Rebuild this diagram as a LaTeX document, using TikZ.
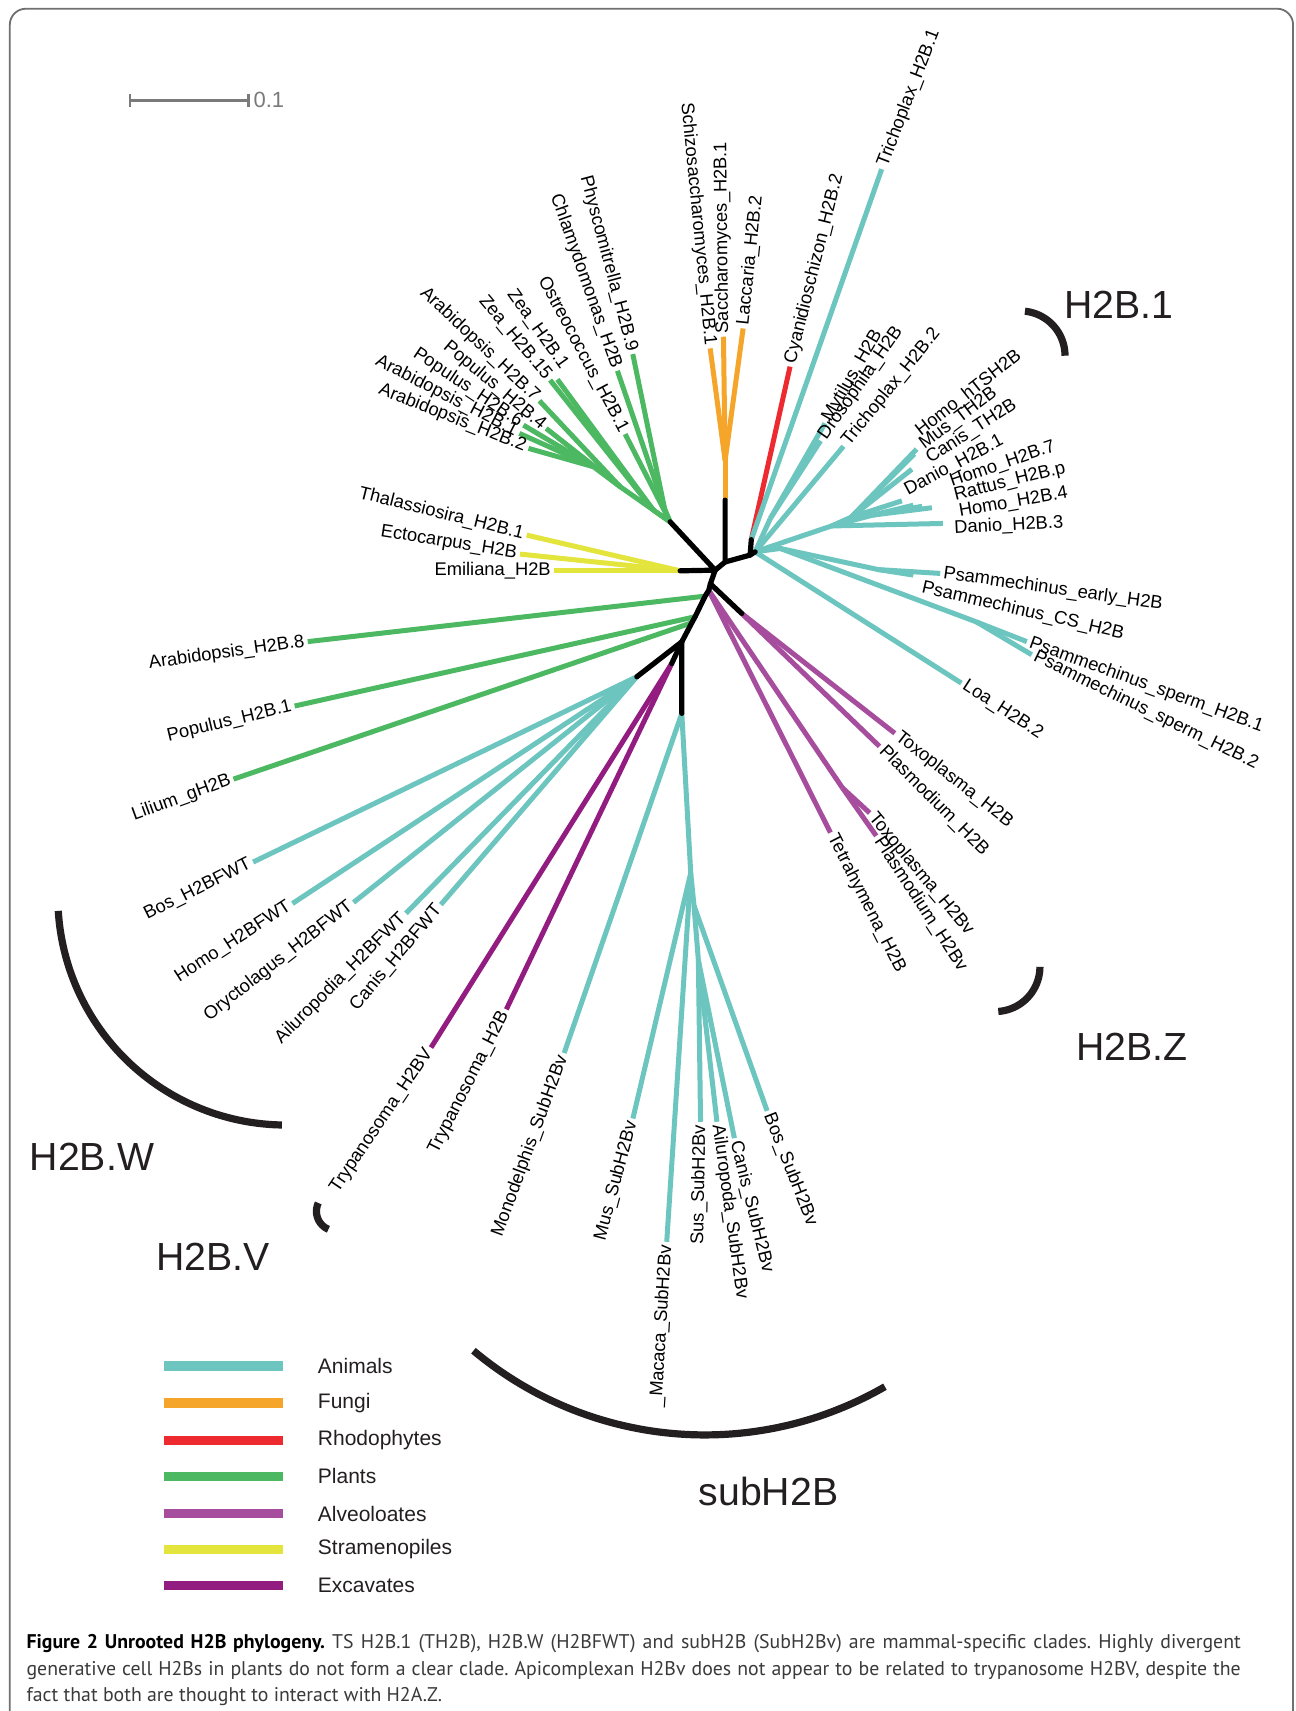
\documentclass[tikz,border=0pt]{standalone}
\usepackage{fontspec}
\setmainfont{Liberation Sans}
\newfontfamily\capfont{PT Sans}
\definecolor{cAni}{HTML}{6CC5BE}
\definecolor{cFun}{HTML}{F4A52A}
\definecolor{cRho}{HTML}{EC2A2F}
\definecolor{cPla}{HTML}{4DB862}
\definecolor{cAlv}{HTML}{A64D9E}
\definecolor{cStr}{HTML}{E3E43C}
\definecolor{cExc}{HTML}{931C81}
\definecolor{cArc}{HTML}{231F20}
\definecolor{cFrame}{HTML}{707070}
\definecolor{cScale}{HTML}{7A7A7A}
\definecolor{cCap}{HTML}{3A3A3A}
\tikzset{
  br/.style={line width=2.5pt},
  blk/.style={line width=2.6pt, draw=black, line cap=round, line join=round},
  lbl/.style={font=\fontsize{9.16}{11}\selectfont, inner sep=1.5pt, text=black},
  clade/.style={font=\fontsize{19.6}{22}\selectfont, inner sep=0pt, anchor=base west, text=cArc},
  arcline/.style={line width=3.6pt, draw=cArc},
  legline/.style={line width=4.8pt},
  legtxt/.style={font=\fontsize{10.5}{12}\selectfont, anchor=west, inner sep=0pt, text=cArc},
  captxt/.style={font=\capfont\fontsize{9.9}{11}\selectfont\frenchspacing, anchor=base west, inner sep=0pt, text=cCap},
}
% name, parent, coord, color, anchor, rotation, text
\newcommand{\mkleaf}[7]{%
  \coordinate (#1) at (#3);
  \draw[br,draw=#4] (#2) -- (#1);
  \node[lbl,anchor=#5,rotate=#6] (#1-t) at (#1) {#7};}
% name, parent, coord, color, label pos, anchor, rotation, text
\newcommand{\mkleafat}[8]{%
  \coordinate (#1) at (#3);
  \draw[br,draw=#4] (#2) -- (#1);
  \node[lbl,anchor=#6,rotate=#7] (#1-t) at (#5) {#8};}
\newcommand{\mkleg}[4]{%
  \coordinate (lg#1a) at (150,#2);
  \coordinate (lg#1b) at (259,#2);
  \draw[legline,draw=#3] (lg#1a) -- (lg#1b);
  \node[legtxt] (lg#1t) at (291,#2) {#4};}
\begin{document}
\begin{tikzpicture}[x=0.5455pt,y=-0.5455pt]
\useasboundingbox (0,0) rectangle (1187,1568);
\fill[white] (0,0) rectangle (1187,1568);
% frame
\draw[cFrame, line width=0.9pt, rounded corners=8pt] (9,1600) -- (9,8) -- (1185,8) -- (1185,1600);
% scale bar
\coordinate (sbA) at (119,92);
\coordinate (sbB) at (228,92);
\draw[cScale, line width=1.3pt] (sbA) -- (sbB);
\draw[cScale, line width=1.3pt] ([yshift=3.3pt]sbA) -- ([yshift=-3.3pt]sbA);
\draw[cScale, line width=1.3pt] ([yshift=3.3pt]sbB) -- ([yshift=-3.3pt]sbB);
\node[font=\fontsize{11}{13}\selectfont, text=cScale, anchor=west, inner sep=0pt] (sbT) at (232,92) {0.1};

% internal nodes
\coordinate (C0) at (655.4,522.5);
\coordinate (G1) at (614.1,478.2);
\coordinate (Y) at (623.3,523.1);
\coordinate (Fb) at (664.5,515);
\coordinate (F) at (664.5,458.3);
\coordinate (Fo) at (664.5,422);
\coordinate (A0) at (687.4,508.7);
\coordinate (R) at (688.5,494.5);
\coordinate (AN) at (692,505.7);
\coordinate (Ca) at (651,535);
\coordinate (T0) at (649.5,541);
\coordinate (B2) at (646.2,546.3);
\coordinate (B3) at (637,565.2);
\coordinate (B4) at (634,570.7);
\coordinate (B5) at (624.8,588.2);
\coordinate (Al) at (679.8,562.2);
\coordinate (FW) at (583.6,620.2);
\coordinate (E) at (615.6,608);
\coordinate (SB) at (624.8,653.8);
% plants internal
\coordinate (Nph) at (609,466);
\coordinate (Nz) at (598.8,467.5);
\coordinate (Nm) at (568.3,446);
\coordinate (Nl) at (543.8,427.7);
\draw[br,draw=cPla] (G1) -- (Nph);
\draw[br,draw=cPla] (G1) -- (Nz);
\draw[br,draw=cPla] (G1) -- (Nm) -- (Nl);
% animals internal
\coordinate (Nmd) at (706,475);
\coordinate (Nt) at (762,482);
\coordinate (Nt1) at (780,474);
\coordinate (Nt2) at (800,472);
\coordinate (Nps) at (715,502.6);
\coordinate (Nec) at (805,522);
\coordinate (Nsp) at (895,570);
\coordinate (Nv) at (772,722);
\coordinate (S1) at (633,800);
\coordinate (S2) at (636,830);
\coordinate (S3) at (640,880);
\draw[br,draw=cAni] (AN) -- (Nmd);
\draw[br,draw=cAni] (AN) -- (Nt) -- (Nt1);
\draw[br,draw=cAni] (Nt) -- (Nt2);
\draw[br,draw=cAni] (AN) -- (Nps) -- (Nec);
\draw[br,draw=cAni] (Nps) -- (Nsp);
\draw[br,draw=cAni] (SB) -- (S1) -- (S2) -- (S3);
\draw[br,draw=cAlv] (T0) -- (Nv);
\draw[br,draw=cFun] (F) -- (Fo);

% plants (upper)
\mkleaf{phys}{Nph}{579.9,324.5}{cPla}{east}{-75}{Physcomitrella\_H2B.9}
\mkleaf{chla}{Nph}{565.8,339.8}{cPla}{east}{-70.5}{Chlamydomonas\_H2B}
\mkleaf{ostr}{G1}{572.9,397.8}{cPla}{east}{-62}{Ostreococcus\_H2B.1}
\mkleafat{zea1}{Nz}{510.8,347.7}{cPla}{519,339}{east}{-54.6}{Zea\_H2B.1}
\mkleaf{zea15}{Nz}{504.1,348.3}{cPla}{east}{-50.2}{Zea\_H2B.15}
\mkleaf{ara7}{Nm}{494.3,367.3}{cPla}{east}{-43.3}{Arabidopsis\_H2B.7}
\mkleaf{pop4}{Nm}{500.5,392.6}{cPla}{east}{-39.8}{Populus\_H2B.4}
\mkleaf{pop6}{Nl}{479.7,389.6}{cPla}{east}{-33.9}{Populus\_H2B.6}
\mkleaf{ara1}{Nl}{476,397.2}{cPla}{east}{-27.1}{Arabidopsis\_H2B.1}
\mkleaf{ara2}{Nl}{484.3,410.9}{cPla}{east}{-21.7}{Arabidopsis\_H2B.2}
% stramenopiles
\mkleaf{thal}{Y}{482.7,490.4}{cStr}{east}{-14}{Thalassiosira\_H2B.1}
\mkleaf{ecto}{Y}{476.6,507.8}{cStr}{east}{-9}{Ectocarpus\_H2B}
\mkleaf{emil}{Y}{507.8,523.1}{cStr}{east}{0}{Emiliana\_H2B}
% fungi
\mkleaf{schi}{Fo}{650.8,319.3}{cFun}{east}{-84.4}{Schizosaccharomyces\_H2B.1}
\mkleaf{sacc}{Fo}{663,308.6}{cFun}{west}{90.6}{Saccharomyces\_H2B.1}
\mkleaf{lacc}{Fo}{681,301}{cFun}{west}{84}{Laccaria\_H2B.2}
% rhodophytes
\mkleaf{cyan}{R}{724,336}{cRho}{west}{76}{Cyanidioschizon\_H2B.2}
\mkleaf{tri1}{R}{808,155}{cAni}{west}{69}{Trichoplax\_H2B.1}
% animals
\mkleaf{myti}{Nmd}{756,388}{cAni}{west}{60}{Mytilus\_H2B}
\mkleaf{dros}{Nmd}{752,404}{cAni}{west}{55}{Drosophila\_H2B}
\mkleaf{tri2}{AN}{773,409}{cAni}{west}{51}{Trichoplax\_H2B.2}
\mkleafat{htsh}{Nt1}{840,411.6}{cAni}{839,398.7}{west}{38}{Homo\_hTSH2B}
\mkleafat{must}{Nt1}{838,416}{cAni}{842.4,410.9}{west}{37}{Mus\_TH2B}
\mkleafat{cant}{Nt1}{835.7,430}{cAni}{847.8,423.2}{west}{33}{Canis\_TH2B}
\mkleafat{dan1}{Nt1}{826.5,459}{cAni}{827.4,451.5}{west}{28}{Danio\_H2B.1}
\mkleafat{hom7}{Nt2}{837,463}{cAni}{868.3,443}{west}{19}{Homo\_H2B.7}
\mkleafat{ratp}{Nt2}{845,464}{cAni}{871.7,455.2}{west}{14}{Rattus\_H2B.p}
\mkleafat{hom4}{Nt2}{854,465.3}{cAni}{876,470}{west}{10}{Homo\_H2B.4}
\mkleafat{dan3}{Nt}{864,479.7}{cAni}{871.5,484.5}{west}{3}{Danio\_H2B.3}
\mkleaf{psea}{Nec}{861.6,525.5}{cAni}{west}{-8}{Psammechinus\_early\_H2B}
\mkleafat{pscs}{Nec}{837,527}{cAni}{842,538}{west}{-13}{Psammechinus\_CS\_H2B}
\mkleaf{psp1}{Nsp}{941,588}{cAni}{west}{-20}{Psammechinus\_sperm\_H2B.1}
\mkleaf{psp2}{Nsp}{945.5,600}{cAni}{west}{-26}{Psammechinus\_sperm\_H2B.2}
\mkleaf{loa}{AN}{881,626}{cAni}{west}{-33}{Loa\_H2B.2}
% alveolates
\mkleaf{toxo}{Al}{820,672}{cAlv}{west}{-38}{Toxoplasma\_H2B}
\mkleaf{plas}{Al}{806,684}{cAlv}{west}{-45}{Plasmodium\_H2B}
\mkleaf{tetr}{T0}{761,763}{cAlv}{west}{-63}{Tetrahymena\_H2B}
\mkleaf{toxv}{Nv}{797,745}{cAlv}{west}{-50}{Toxoplasma\_H2Bv}
\mkleaf{plav}{Nv}{803,766}{cAlv}{west}{-57}{Plasmodium\_H2Bv}
% plants (lower)
\mkleaf{ara8}{B2}{282,588}{cPla}{east}{8}{Arabidopsis\_H2B.8}
\mkleaf{pop1}{B3}{270,647}{cPla}{east}{13.5}{Populus\_H2B.1}
\mkleaf{lili}{B4}{214,714}{cPla}{east}{20}{Lilium\_gH2B}
% H2BFWT
\mkleaf{bosf}{FW}{232,790}{cAni}{east}{26.5}{Bos\_H2BFWT}
\mkleaf{homf}{FW}{268,828}{cAni}{east}{33}{Homo\_H2BFWT}
\mkleaf{oryf}{FW}{324,827}{cAni}{east}{38}{Oryctolagus\_H2BFWT}
\mkleaf{ailf}{FW}{372,837}{cAni}{east}{45}{Ailuropodia\_H2BFWT}
\mkleaf{canf}{FW}{404,829}{cAni}{east}{50}{Canis\_H2BFWT}
% excavates
\mkleaf{tryv}{E}{395,960}{cExc}{east}{56}{Trypanosoma\_H2BV}
\mkleaf{tryb}{E}{464,925}{cExc}{east}{63}{Trypanosoma\_H2B}
% subH2B
\mkleaf{mono}{SB}{517,965}{cAni}{east}{70}{Monodelphis\_SubH2Bv}
\mkleaf{muss}{S1}{580,1025}{cAni}{east}{75}{Mus\_SubH2Bv}
\mkleaf{maca}{S1}{611,1138}{cAni}{east}{86.5}{\_Macaca\_SubH2Bv}
\mkleaf{suss}{S3}{642,1028}{cAni}{east}{89}{Sus\_SubH2Bv}
\mkleaf{ails}{S3}{657,1028}{cAni}{west}{-82}{Ailuropoda\_SubH2Bv}
\mkleaf{cans}{S3}{673,1043}{cAni}{west}{-76}{Canis\_SubH2Bv}
\mkleaf{boss}{S2}{703,1018}{cAni}{west}{-68.5}{Bos\_SubH2Bv}

% black backbone
\draw[blk] (G1) -- (C0) -- (Y);
\draw[blk] (C0) -- (Fb) -- (F);
\draw[blk] (Fb) -- (A0) -- (R);
\draw[blk] (A0) -- (AN);
\draw[blk] (C0) -- (Ca) -- (T0) -- (B2) -- (B3) -- (B4) -- (B5) -- (SB);
\draw[blk] (Ca) -- (Al);
\draw[blk] (B5) -- (FW);
\draw[blk] (B5) -- (E);

% clade arcs
\draw[arcline] plot[domain=-84:0, samples=30, smooth] ({935+41*cos(\x)},{326+41*sin(\x)});
\draw[arcline] plot[domain=0:86, samples=30, smooth] ({912+41*cos(\x)},{886+41*sin(\x)});
\draw[arcline] plot[domain=176.5:91, samples=60, smooth] ({262+209*cos(\x)},{822+209*sin(\x)});
\draw[arcline] plot[domain=205:113, samples=30, smooth] ({308+18*cos(\x)},{1110+18*sin(\x)});
\draw[arcline] plot[domain=130:60, samples=60, smooth] ({646+330*cos(\x)},{985+330*sin(\x)});
% clade labels
\node[clade] (lH1) at (975,292) {H2B.1};
\node[clade] (lHZ) at (986,972) {H2B.Z};
\node[clade] (lHW) at (27,1073) {H2B.W};
\node[clade] (lHV) at (143,1164) {H2B.V};
\node[clade] (lSub) at (640,1380) {subH2B};

% legend
\mkleg{A}{1252}{cAni}{Animals}
\mkleg{F}{1286}{cFun}{Fungi}
\mkleg{R}{1320}{cRho}{Rhodophytes}
\mkleg{P}{1353}{cPla}{Plants}
\mkleg{L}{1387}{cAlv}{Alveoloates}
\mkleg{S}{1420}{cStr}{Stramenopiles}
\mkleg{E}{1453}{cExc}{Excavates}

% caption
\node[captxt] (cap1) at (24,1511) {\makebox[607pt][s]{{\bfseries\color{black}Figure 2 Unrooted H2B phylogeny.} TS H2B.1 (TH2B), H2B.W (H2BFWT) and subH2B (SubH2Bv) are mammal-specific clades. Highly divergent}};
\node[captxt] (cap2) at (24,1535) {\makebox[607pt][s]{generative cell H2Bs in plants do not form a clear clade. Apicomplexan H2Bv does not appear to be related to trypanosome H2BV, despite the}};
\node[captxt] (cap3) at (24,1559) {fact that both are thought to interact with H2A.Z.};
\end{tikzpicture}
\end{document}
